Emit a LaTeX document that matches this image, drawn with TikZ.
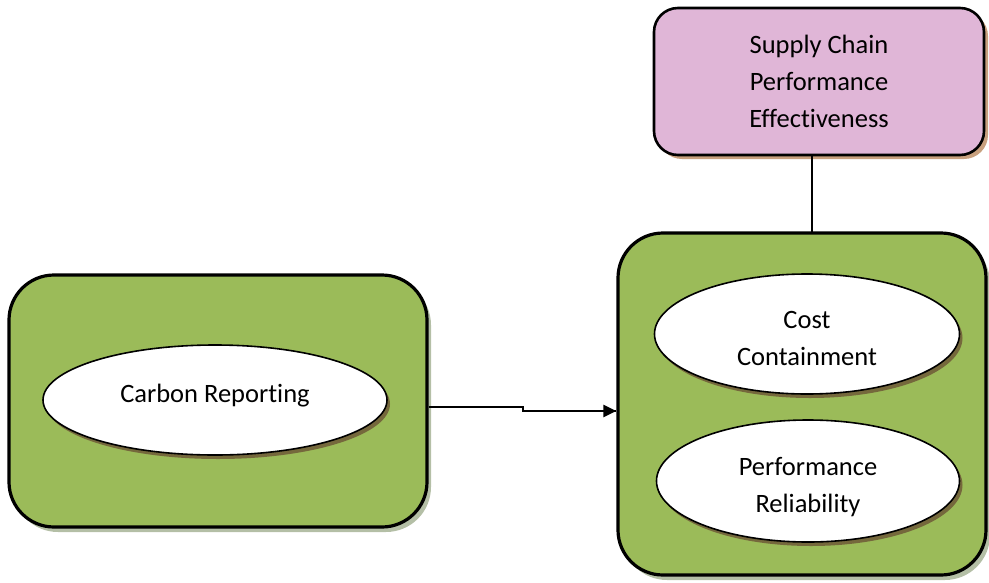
\documentclass[tikz,border=0pt]{standalone}
\usepackage{fontspec}
\setmainfont[Ligatures=NoCommon]{Carlito}
\usetikzlibrary{shapes.geometric,shadows,arrows.meta}
\definecolor{boxgreen}{HTML}{9BBB59}
\definecolor{boxpink}{HTML}{E0B6D7}
\definecolor{pinkshadow}{HTML}{C8A07E}
\definecolor{greenshadow}{HTML}{B4BFA6}
\definecolor{ellshadow}{HTML}{75683C}
\newcommand{\shiftbox}[2]{\raisebox{#1}[\height][\depth]{#2}}
\tikzset{
  greenbox/.style={draw=black, line width=3.2pt, fill=boxgreen, rounded corners=#1,
    drop shadow={shadow xshift=4pt, shadow yshift=-5pt, fill=greenshadow, opacity=1}},
  pinkbox/.style={draw=black, line width=2.6pt, fill=boxpink, rounded corners=24pt,
    drop shadow={shadow xshift=4pt, shadow yshift=-4pt, fill=pinkshadow, opacity=1}},
  oval/.style={ellipse, draw=black, line width=1.6pt, fill=white, inner sep=0pt,
    drop shadow={shadow xshift=3pt, shadow yshift=-4pt, fill=ellshadow, opacity=1}},
  txt/.style={font=\fontsize{26.5}{37}\selectfont, align=center},
  conn/.style={draw=black, line width=2.4pt},
}
\begin{document}
\begin{tikzpicture}[x=1pt,y=-1pt]
\useasboundingbox (0,0) rectangle (989,582);
% boxes
\node[pinkbox, minimum width=330pt, minimum height=147pt, txt] (scpe) at (819,81.5)
  {Supply Chain\\Performance\\Effectiveness};
\node[greenbox=45pt, minimum width=418pt, minimum height=252pt] (left) at (218,401) {};
\node[greenbox=45pt, minimum width=368pt, minimum height=342pt] (right) at (802,404) {};
% ovals
\node[oval, minimum width=344pt, minimum height=110pt, txt] (carbon) at (215,400)
  {\shiftbox{4pt}{Carbon Reporting}};
\node[oval, minimum width=305pt, minimum height=120pt, txt] (cost) at (807,334)
  {\shiftbox{-4.5pt}{\shortstack{Cost\\[15pt]Containment}}};
\node[oval, minimum width=303pt, minimum height=122pt, txt] (perf) at (808,481)
  {\shiftbox{-6pt}{\shortstack{Performance\\[16pt]Reliability}}};
% connectors
\coordinate (a1) at (523,407);
\coordinate (a2) at (523,411);
\draw[conn] (left.east |- a1) -- (a1) -- (a2) -- (right.west |- a2) ;
\draw[conn, -{Triangle[length=13pt,width=12pt]}] (600,411) -- (right.west |- a2);
\draw[conn, line width=1.8pt] (scpe.south -| 812,0) -- (812,233);
\end{tikzpicture}
\end{document}
